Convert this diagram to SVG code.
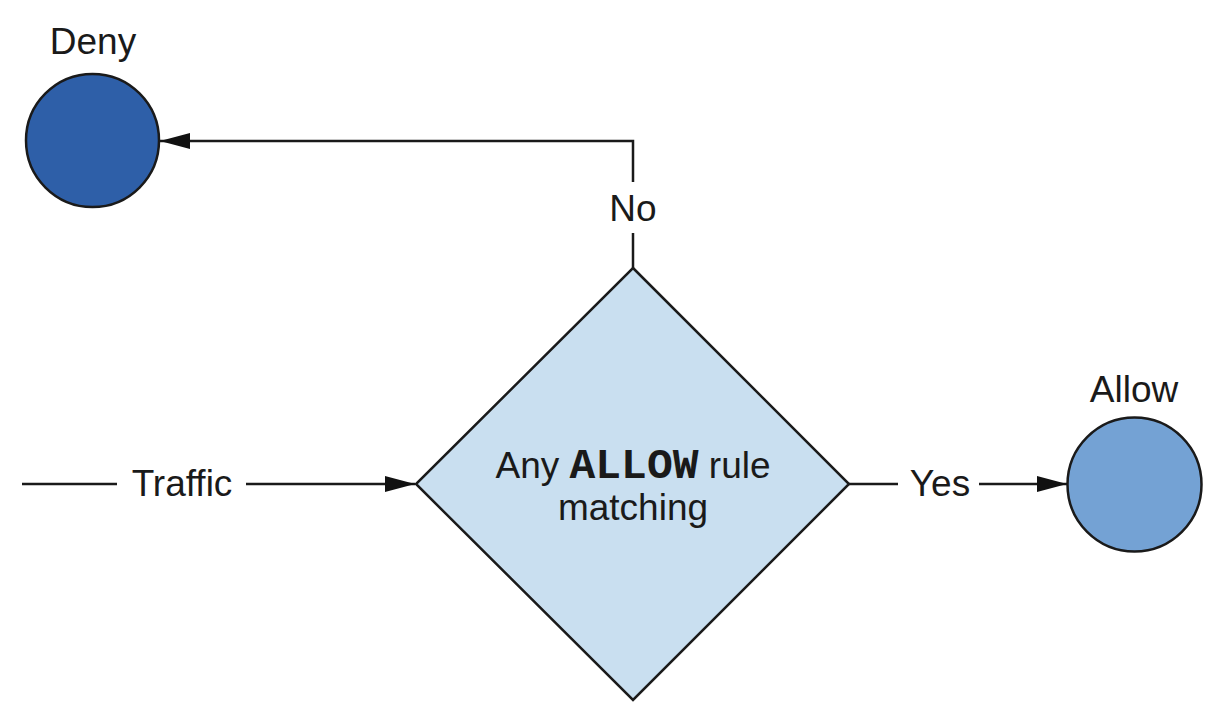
<svg xmlns="http://www.w3.org/2000/svg" width="1210" height="726" viewBox="0 0 1210 726">
<style>
.lbl{font-family:"Liberation Sans",Arial,sans-serif;font-size:37px;fill:#1a1a1a;text-anchor:middle}
.mono{font-family:"Liberation Mono","Courier New",monospace;font-weight:bold;font-size:43px}
.edge{fill:none;stroke:#1a1a1a;stroke-width:2.5}
.node{stroke:#1a1a1a;stroke-width:2.5}
</style>
<defs>
<marker id="arr" viewBox="0 0 30 16" refX="30" refY="8" markerWidth="30" markerHeight="16" markerUnits="userSpaceOnUse" orient="auto">
<path d="M0,0 L30,8 L0,16 z" fill="#111"/>
</marker>
</defs>
<rect width="1210" height="726" fill="#ffffff"/>
<g id="connectors">
<line class="edge" x1="22" y1="484" x2="117" y2="484"/>
<line class="edge" x1="246" y1="484" x2="415" y2="484" marker-end="url(#arr)"/>
<text class="lbl" x="182" y="496">Traffic</text>
<line class="edge" x1="849" y1="484" x2="898" y2="484"/>
<line class="edge" x1="979" y1="484" x2="1067" y2="484" marker-end="url(#arr)"/>
<text class="lbl" x="940" y="496">Yes</text>
<line class="edge" x1="633" y1="268" x2="633" y2="233"/>
<polyline class="edge" points="633,182 633,141 160,141" marker-end="url(#arr)"/>
<text class="lbl" x="633" y="221">No</text>
</g>
<g id="decision">
<polygon class="node" points="633,268 849,484 633,700 416,484" fill="#c9dff0"/>
<text class="lbl" x="633" y="478">Any <tspan class="mono">ALLOW</tspan> rule</text>
<text class="lbl" x="633" y="520">matching</text>
</g>
<g id="deny">
<circle class="node" cx="92.5" cy="140.5" r="66.5" fill="#2e5fa8"/>
<text class="lbl" x="93" y="54">Deny</text>
</g>
<g id="allow">
<circle class="node" cx="1134.5" cy="484.5" r="67" fill="#74a2d4"/>
<text class="lbl" x="1134" y="402">Allow</text>
</g>
</svg>
